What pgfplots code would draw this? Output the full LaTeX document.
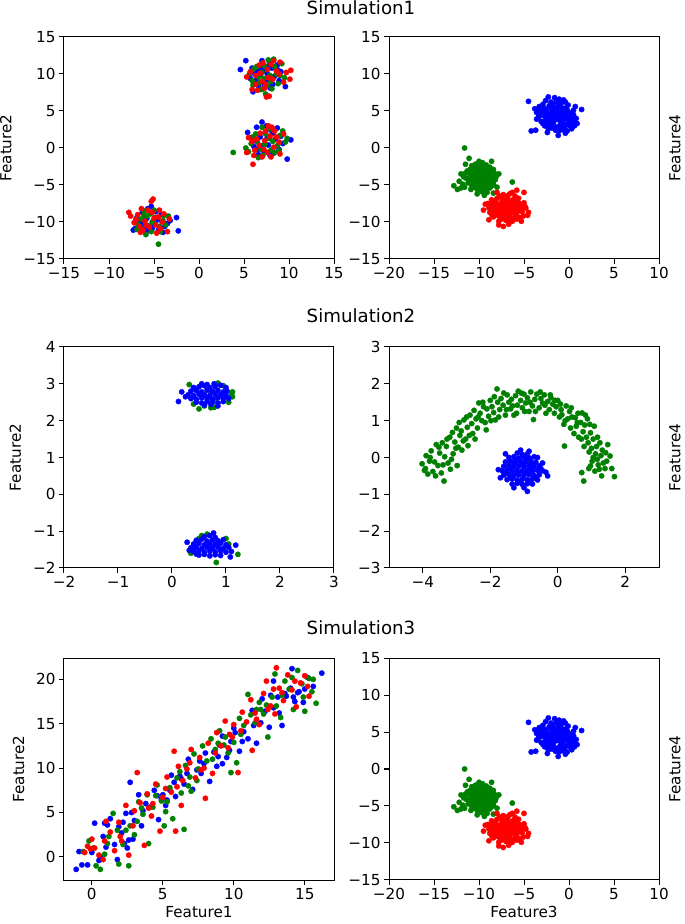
\documentclass[border=0pt]{standalone}
\usepackage{pgfplots}
\pgfplotsset{compat=1.18}
\usepackage{pgfplotstable}
\usepackage{fontspec}
\setmainfont{DejaVu Sans}
\definecolor{mb}{rgb}{0,0,1}
\definecolor{mg}{rgb}{0,0.5,0}
\definecolor{mr}{rgb}{1,0,0}
\pgfplotsset{
  panel/.style={
    width=270pt, height=222pt, scale only axis, anchor=south west,
    axis line style={line width=1pt, black},
    tick style={line width=1pt, black},
    tick align=outside, tick pos=left, major tick length=5pt,
    ticklabel style={font=\fontsize{15.2}{18}\selectfont},
    label style={font=\fontsize{15.2}{18}\selectfont},
    ylabel shift=5pt, xlabel shift=1.5pt,
    xlabel style={inner sep=1pt},
  },
  rlabel/.style={ylabel shift=0pt, ylabel style={at={(rel axis cs:1.025,0.5)}, anchor=north}},
  pb/.style={only marks, mark=*, mark size=2.7pt, color=mb, mark options={line width=0.3pt}},
  pg/.style={only marks, mark=*, mark size=2.7pt, color=mg, mark options={line width=0.3pt}},
  pr/.style={only marks, mark=*, mark size=2.7pt, color=mr, mark options={line width=0.3pt}},
}
% ---------- shared data: Feature3 vs Feature4 (Simulation1 and Simulation3) ----------
\pgfplotstableread{
x y
-2.6 6.4
-2.0 6.2
-1.4 6.3
-0.9 6.0
-2.3 6.9
-1.1 6.6
-3.3 5.6
-2.8 5.4
-2.2 5.7
-1.7 5.5
-1.1 5.6
-0.5 5.3
-0.1 5.8
-3.6 4.8
-3.0 5.0
-2.5 4.9
-1.9 5.1
-1.4 4.8
-0.8 5.0
-0.3 4.9
0.3 4.7
-3.4 4.2
-2.9 4.4
-2.3 4.2
-1.8 4.5
-1.2 4.3
-0.6 4.4
0.0 4.2
0.5 4.5
-3.1 3.6
-2.6 3.8
-2.0 3.5
-1.5 3.8
-0.9 3.6
-0.4 3.9
0.2 3.5
-2.7 3.0
-2.1 3.2
-1.6 2.9
-1.0 3.1
-0.5 2.8
0.1 3.0
-2.3 2.6
-1.5 2.4
-0.8 2.5
-0.2 2.3
-2.45 4.65
-1.55 4.05
-0.95 4.7
-2.05 3.95
-1.35 5.25
-0.65 4.0
-2.75 4.35
-1.75 3.35
-0.35 5.4
-3.0 4.7
-4.5 6.3
1.4 5.2
-4.2 2.3
-3.7 2.4
-1.2 1.7
-2.4 2.1
0.8 4.0
0.9 3.3
0.7 5.6
-3.8 5.3
-0.4 2.0
0.3 2.6
-1.6 6.8
-0.6 6.5
-2.9 5.9
-1.8 6.0
-1.2 5.95
-0.4 6.2
-3.5 5.2
-2.55 5.25
-1.95 5.45
-0.8 5.45
-0.15 5.05
0.5 5.1
-3.3 4.5
-2.1 4.6
-1.5 4.45
-0.9 4.15
-0.3 4.55
0.3 4.1
-3.6 3.9
-2.4 3.65
-1.2 3.85
-0.7 3.3
0.0 3.8
0.5 3.7
-2.9 3.3
-2.4 3.1
-1.3 2.75
-0.2 3.2
-1.9 2.7
-1.1 2.3
-0.5 2.5
0.6 3.0
}\Bblue
\pgfplotstableread{
x y
-10.4 -2.2
-9.8 -2.4
-9.2 -2.3
-8.8 -2.6
-11.0 -2.9
-10.5 -2.8
-9.9 -3.0
-9.4 -2.8
-8.9 -3.1
-8.4 -2.9
-11.5 -3.4
-11.0 -3.6
-10.4 -3.4
-9.9 -3.6
-9.3 -3.5
-8.8 -3.7
-8.3 -3.4
-11.4 -4.1
-10.8 -4.0
-10.3 -4.2
-9.7 -4.1
-9.2 -4.2
-8.6 -4.0
-8.2 -4.3
-11.2 -4.7
-10.6 -4.8
-10.0 -4.6
-9.5 -4.8
-8.9 -4.7
-8.4 -4.9
-10.5 -5.3
-9.9 -5.4
-9.4 -5.2
-8.8 -5.4
-9.7 -5.9
-9.1 -6.0
-10.15 -3.15
-9.55 -3.25
-10.65 -4.45
-9.45 -4.45
-10.05 -3.85
-8.95 -4.45
-10.75 -3.25
-9.15 -5.0
-10.2 -5.0
-9.6 -3.85
-11.6 0.0
-11.1 -1.4
-12.8 -5.1
-12.4 -5.6
-12.0 -5.4
-11.8 -4.9
-6.3 -4.6
-9.4 -6.4
-10.2 -6.2
-8.4 -6.1
-12.0 -3.5
-11.5 -2.2
-8.0 -5.3
-10.9 -5.6
-8.6 -1.8
-10.0 -1.8
-7.8 -3.5
-10.8 -2.4
-9.6 -2.0
-9.0 -2.9
-11.3 -3.1
-10.1 -2.6
-8.6 -3.3
-11.7 -3.9
-10.5 -3.8
-9.4 -3.9
-8.9 -4.0
-8.5 -4.6
-11.0 -4.3
-9.8 -4.4
-10.3 -4.8
-9.2 -4.6
-10.8 -5.1
-9.6 -5.1
-8.6 -5.1
-10.2 -5.6
-9.3 -5.6
-8.1 -3.9
-12.2 -4.5
-11.6 -5.3
}\Bgreen
\pgfplotstableread{
x y
-7.3 -6.3
-6.6 -6.2
-6.0 -6.5
-8.6 -7.0
-8.0 -6.8
-7.4 -6.9
-6.8 -6.8
-6.2 -7.0
-5.6 -6.8
-9.0 -7.5
-8.5 -7.4
-7.9 -7.6
-7.3 -7.5
-6.7 -7.4
-6.1 -7.6
-5.5 -7.5
-5.0 -7.4
-8.9 -8.1
-8.3 -8.0
-7.7 -8.2
-7.1 -8.1
-6.5 -8.2
-5.9 -8.0
-5.3 -8.2
-4.8 -8.1
-8.8 -8.7
-8.2 -8.8
-7.6 -8.6
-7.0 -8.8
-6.4 -8.7
-5.8 -8.8
-5.2 -8.6
-8.4 -9.3
-7.8 -9.2
-7.2 -9.4
-6.6 -9.3
-6.0 -9.2
-5.5 -9.4
-7.8 -9.9
-7.0 -9.8
-6.3 -9.9
-7.45 -7.2
-6.35 -7.8
-8.05 -8.4
-6.85 -8.5
-7.3 -9.0
-5.65 -8.4
-8.35 -7.7
-6.2 -9.6
-7.0 -7.8
-4.5 -8.7
-4.6 -9.1
-7.3 -10.6
-7.8 -10.4
-5.8 -5.7
-5.0 -6.0
-9.3 -7.6
-9.5 -8.4
-8.9 -9.7
-6.7 -10.3
-5.3 -9.9
-8.0 -6.0
-4.9 -7.9
-7.7 -6.5
-6.9 -6.5
-6.3 -6.0
-8.2 -7.2
-7.1 -7.1
-6.4 -7.3
-5.8 -7.2
-8.7 -7.8
-7.6 -7.9
-6.7 -7.7
-5.6 -7.8
-5.1 -7.8
-8.5 -8.4
-7.4 -8.4
-6.2 -8.4
-5.4 -8.4
-8.0 -9.0
-6.9 -9.2
-5.9 -9.0
-5.1 -9.2
-7.5 -9.6
-6.6 -9.7
-5.8 -9.6
-8.6 -9.0
}\Bred
\begin{document}
\begin{tikzpicture}
\path[use as bounding box] (0,0) rectangle (685pt,924pt);
\node[anchor=base, font=\fontsize{18.2}{22}\selectfont] at (361pt,909pt) {Simulation1};
\node[anchor=base, font=\fontsize{18.2}{22}\selectfont] at (361pt,601pt) {Simulation2};
\node[anchor=base, font=\fontsize{18.2}{22}\selectfont] at (361pt,289pt) {Simulation3};
% ================= Simulation1 left =================
\begin{axis}[panel, at={(64pt,665pt)},
  xmin=-15, xmax=15, ymin=-15, ymax=15,
  xtick={-15,-10,-5,0,5,10,15}, xticklabels={−15,−10,−5,0,5,10,15},
  ytick={-15,-10,-5,0,5,10,15}, yticklabels={−15,−10,−5,0,5,10,15},
  ylabel={Feature2}]
\addplot[pb] table {
6.5 10.5
7.0 11.8
7.8 11.7
5.2 11.8
4.6 10.6
6.0 7.6
8.9 9.1
9.6 8.3
7.2 8.7
8.1 10.8
6.8 9.9
7.5 9.2
8.4 9.7
6.2 10.0
7.9 8.1
9.1 10.3
5.7 9.4
7.3 10.4
8.7 11.2
6.6 8.4
6.9 10.9
7.6 10.0
8.2 8.6
6.4 9.2
7.1 8.0
8.8 10.5
5.9 10.8
7.7 11.0
7.0 3.5
7.5 3.0
6.4 2.8
8.0 2.4
5.4 2.1
10.2 1.1
9.8 -1.5
6.8 1.5
7.7 0.4
8.5 1.2
6.1 0.2
7.2 -0.4
8.9 -0.2
5.9 1.4
7.9 -1.0
6.6 -0.9
9.3 0.6
8.2 2.0
7.4 2.2
6.2 1.0
8.7 2.7
7.0 0.3
8.3 -0.7
6.5 -0.2
9.1 1.6
7.6 1.4
-7.3 -11.1
-7.1 -10.9
-2.3 -11.2
-2.5 -9.4
-3.2 -9.8
-4.5 -11.1
-5.3 -7.9
-6.3 -8.7
-5.0 -10.3
-5.8 -9.5
-4.2 -9.0
-6.6 -10.0
-3.8 -10.6
-5.5 -11.0
-4.8 -8.6
-6.0 -10.7
-5.7 -8.2
-4.6 -9.7
-6.9 -9.4
-5.2 -10.9
-3.5 -10.2
-6.2 -10.2
-4.0 -11.4
-5.9 -11.4
};
\addplot[pg] table {
7.7 11.9
8.3 12.0
6.4 11.0
7.0 10.2
8.6 10.0
9.5 9.5
6.9 7.9
7.4 7.3
5.9 9.1
8.0 9.0
6.6 9.6
9.2 11.4
7.6 8.5
8.8 8.7
6.1 10.7
7.2 9.4
7.3 11.1
8.4 11.0
6.0 8.5
7.9 9.8
6.7 8.8
9.0 9.8
5.6 10.0
8.1 8.0
3.8 -0.6
5.2 0.0
5.5 -0.5
9.3 2.3
9.0 1.7
9.6 0.8
8.4 -0.6
7.4 1.9
6.5 0.8
7.8 1.3
6.9 -0.2
8.7 0.3
7.1 -1.0
5.8 0.6
8.0 -0.3
6.3 1.9
7.9 2.6
6.0 1.5
8.9 -0.4
7.3 0.5
6.6 -1.3
8.2 0.9
9.8 1.3
7.0 2.8
-4.5 -13.0
-5.9 -11.7
-7.0 -9.6
-3.4 -9.2
-3.7 -10.4
-4.3 -11.3
-5.2 -10.0
-6.1 -9.1
-4.9 -9.4
-5.6 -10.5
-6.5 -10.8
-4.0 -9.8
-5.4 -8.9
-6.8 -10.3
-6.4 -9.6
-5.0 -8.4
-4.4 -10.6
-5.8 -9.2
-6.9 -11.0
-3.9 -9.1
-5.3 -11.3
-6.1 -8.5
};
\addplot[pr] table {
8.3 11.8
9.0 11.6
5.7 10.3
5.3 9.6
10.2 10.5
10.1 9.3
7.5 6.9
7.8 7.0
6.7 11.2
7.6 10.6
8.2 9.3
6.3 8.6
9.4 8.9
7.0 9.0
8.6 10.4
5.9 7.9
7.3 8.1
6.8 10.1
7.1 11.5
6.3 9.8
8.9 10.0
7.7 9.5
6.5 7.8
9.7 10.2
8.0 11.3
7.4 8.6
6.0 -2.2
5.3 -0.6
5.5 1.4
8.1 2.8
7.3 1.0
6.7 0.3
7.0 -1.2
8.6 1.5
6.2 -0.3
7.6 -0.6
9.0 -0.8
5.9 0.9
8.3 0.1
7.4 2.3
6.8 2.0
7.9 1.6
7.7 3.0
6.4 1.2
8.0 -1.2
8.9 0.8
7.2 -0.2
6.1 -1.0
9.4 1.9
8.4 2.3
-7.8 -8.7
-7.6 -9.2
-5.1 -6.9
-5.3 -7.2
-3.5 -11.3
-4.7 -11.5
-6.2 -11.1
-6.8 -9.0
-4.4 -8.4
-5.7 -8.4
-5.0 -9.5
-6.0 -9.9
-4.1 -10.0
-5.5 -10.7
-6.6 -10.6
-3.9 -8.9
-4.8 -10.4
-7.2 -10.1
-6.4 -8.2
-4.5 -9.3
-5.9 -10.4
-3.3 -9.6
-6.5 -11.4
-5.2 -8.7
-7.0 -9.7
-4.3 -10.9
};
\end{axis}
% ================= Simulation1 right =================
\begin{axis}[panel, rlabel, at={(389pt,665pt)},
  xmin=-20, xmax=10, ymin=-15, ymax=15,
  xtick={-20,-15,-10,-5,0,5,10}, xticklabels={−20,−15,−10,−5,0,5,10},
  ytick={-15,-10,-5,0,5,10,15}, yticklabels={−15,−10,−5,0,5,10,15},
  ylabel={Feature4}]
\addplot[pb] table {\Bblue};
\addplot[pg] table {\Bgreen};
\addplot[pr] table {\Bred};
\end{axis}
% ================= Simulation2 left =================
\begin{axis}[panel, at={(64pt,356pt)}, height=221pt,
  xmin=-2, xmax=3, ymin=-2, ymax=4,
  xtick={-2,-1,0,1,2,3}, xticklabels={−2,−1,0,1,2,3},
  ytick={-2,-1,0,1,2,3,4}, yticklabels={−2,−1,0,1,2,3,4},
  ylabel={Feature2}]
\addplot[pg] table {
0.32 2.98
0.5 2.32
0.72 2.35
0.78 2.36
1.12 2.78
1.1 2.7
0.85 3.02
1.05 2.5
0.95 2.95
0.4 2.45
1.12 2.65
0.6 2.4
0.6 2.7
0.8 2.6
0.7 2.8
0.65 -1.08
0.55 -1.12
0.82 -1.85
1.22 -1.63
0.35 -1.6
1.0 -1.2
0.4 -1.45
1.05 -1.35
0.5 -1.2
0.7 -1.4
0.9 -1.5
};
\addplot[pb] table {
0.5 2.92
0.6 2.95
0.7 2.9
0.8 2.93
0.9 2.96
0.65 2.98
0.35 2.8
0.45 2.82
0.55 2.78
0.65 2.83
0.75 2.8
0.85 2.82
0.95 2.78
1.02 2.8
0.3 2.7
0.4 2.68
0.5 2.72
0.6 2.7
0.7 2.68
0.8 2.72
0.9 2.7
1.0 2.68
0.35 2.6
0.45 2.58
0.55 2.62
0.65 2.6
0.75 2.58
0.85 2.62
0.95 2.6
0.45 2.5
0.55 2.48
0.65 2.52
0.75 2.5
0.85 2.48
0.95 2.52
0.6 2.42
0.72 2.44
0.85 2.4
0.12 2.52
0.18 2.78
0.25 2.65
1.05 2.6
0.55 3.0
0.78 3.0
0.4 2.9
1.0 2.9
0.6 -1.15
0.7 -1.12
0.8 -1.17
0.45 -1.25
0.55 -1.22
0.65 -1.27
0.75 -1.24
0.85 -1.26
0.95 -1.23
0.4 -1.35
0.5 -1.33
0.6 -1.37
0.7 -1.34
0.8 -1.36
0.9 -1.33
1.0 -1.37
0.35 -1.45
0.45 -1.43
0.55 -1.47
0.65 -1.44
0.75 -1.46
0.85 -1.43
0.95 -1.47
1.05 -1.44
0.4 -1.55
0.5 -1.53
0.6 -1.57
0.7 -1.54
0.8 -1.56
0.9 -1.53
1.0 -1.57
0.5 -1.65
0.6 -1.63
0.7 -1.67
0.8 -1.64
0.9 -1.66
0.28 -1.3
1.18 -1.38
1.08 -1.7
0.77 -1.05
0.32 -1.52
1.1 -1.55
0.45 -1.62
};
\end{axis}
% ================= Simulation2 right =================
\begin{axis}[panel, rlabel, at={(389pt,356pt)}, height=221pt,
  xmin=-5, xmax=3, ymin=-3, ymax=3,
  xtick={-4,-2,0,2}, xticklabels={−4,−2,0,2},
  ytick={-3,-2,-1,0,1,2,3}, yticklabels={−3,−2,−1,0,1,2,3},
  ylabel={Feature4}]
\addplot[pg] table {
-4.02 -0.17
-3.95 -0.35
-3.9 0.05
-3.85 -0.45
-3.8 -0.1
-3.75 0.18
-3.7 -0.38
-3.65 -0.12
-3.6 0.35
-3.55 -0.22
-3.5 0.12
-3.45 -0.42
-3.42 0.4
-3.37 -0.64
-3.35 0.02
-3.3 0.3
-3.25 -0.15
-3.2 0.55
-3.18 -0.32
-3.12 0.68
-3.1 0.1
-3.05 0.42
-3.0 0.8
-2.98 -0.22
-2.95 0.28
-2.9 0.6
-2.86 0.72
-2.8 0.45
-2.78 1.02
-2.73 0.5
-2.68 0.82
-2.66 0.32
-2.6 1.15
-2.55 0.92
-2.52 0.65
-2.48 1.28
-2.42 1.05
-2.38 0.8
-2.34 1.48
-2.3 1.2
-2.25 1.0
-2.2 1.38
-2.15 0.95
-2.1 1.32
-2.05 1.12
-2.0 1.55
-1.95 1.38
-1.9 1.22
-1.85 1.02
-1.8 1.86
-1.78 1.5
-1.72 1.3
-1.68 1.6
-1.62 1.42
-1.55 1.15
-1.5 1.7
-1.45 1.5
-1.4 1.32
-1.37 1.58
-1.3 1.15
-1.25 1.68
-1.2 1.42
-1.17 1.8
-1.1 1.55
-1.05 1.35
-1.0 1.72
-0.95 1.48
-0.9 1.62
-0.85 1.25
-0.8 1.78
-0.75 1.4
-0.72 1.03
-0.68 1.58
-0.62 1.72
-0.55 1.35
-0.5 1.6
-0.45 1.48
-0.4 1.7
-0.35 1.2
-0.3 1.52
-0.25 1.3
-0.2 1.62
-0.15 1.45
-0.1 1.2
-0.05 1.38
0.0 1.55
0.05 1.1
0.1 1.3
0.12 1.16
0.18 0.9
0.2 0.31
0.25 1.4
0.3 1.05
0.35 1.25
0.38 0.8
0.42 1.1
0.48 0.65
0.52 1.08
0.55 0.85
0.6 1.2
0.62 0.55
0.68 0.95
0.72 1.21
0.75 0.7
0.78 0.3
0.8 0.88
0.85 0.55
0.88 1.05
0.9 0.4
0.93 0.15
0.97 0.67
1.0 0.25
1.02 -0.1
1.05 0.5
1.08 0.85
1.1 -0.37
1.12 0.1
1.15 0.3
1.17 -0.05
1.2 -0.2
1.23 -0.32
1.25 0.4
1.28 0.05
1.3 -0.5
1.35 -0.15
1.42 0.13
1.48 0.35
1.55 0.04
1.68 -0.52
0.97 -0.23
0.77 -0.64
0.71 -0.41
1.4 -0.3
-3.92 -0.3
-3.78 0.0
-3.62 -0.5
-3.52 0.28
-3.4 -0.2
-3.28 0.5
-3.15 -0.05
-3.02 0.25
-2.92 0.95
-2.84 0.2
-2.7 1.1
-2.62 0.6
-2.45 0.5
-2.36 1.1
-2.22 1.5
-2.12 0.75
-1.98 1.0
-1.88 1.65
-1.75 1.1
-1.6 1.75
-1.52 1.3
-1.34 1.4
-1.22 1.2
-1.08 1.75
-0.98 1.25
-0.82 1.5
-0.66 1.25
-0.52 1.78
-0.38 1.42
-0.22 1.7
-0.08 1.55
0.08 1.45
0.22 1.0
0.4 1.35
0.58 0.95
0.7 0.5
0.82 1.15
0.95 0.9
1.05 0.0
1.18 0.55
1.32 0.2
1.45 -0.1
0.92 -0.3
1.6 -0.3
};
\addplot[pb] table {
-1.2 0.12
-1.05 0.08
-0.9 0.1
-1.45 0.0
-1.3 0.02
-1.15 -0.02
-1.0 0.01
-0.85 -0.01
-0.7 0.02
-1.55 -0.12
-1.4 -0.1
-1.25 -0.13
-1.1 -0.11
-0.95 -0.12
-0.8 -0.1
-0.65 -0.13
-1.6 -0.24
-1.45 -0.22
-1.3 -0.25
-1.15 -0.23
-1.0 -0.24
-0.85 -0.22
-0.7 -0.25
-0.55 -0.23
-1.65 -0.36
-1.5 -0.34
-1.35 -0.37
-1.2 -0.35
-1.05 -0.36
-0.9 -0.34
-0.75 -0.37
-0.6 -0.35
-0.45 -0.36
-1.6 -0.48
-1.45 -0.46
-1.3 -0.49
-1.15 -0.47
-1.0 -0.48
-0.85 -0.46
-0.7 -0.49
-0.55 -0.47
-1.5 -0.6
-1.35 -0.58
-1.2 -0.61
-1.05 -0.59
-0.9 -0.6
-0.75 -0.58
-0.6 -0.61
-1.35 -0.72
-1.2 -0.7
-1.05 -0.73
-0.9 -0.71
-0.75 -0.72
-1.1 0.2
-0.85 0.17
-1.76 -0.33
-0.3 -0.5
-0.35 -0.4
-0.9 -0.92
-1.0 -0.82
-1.3 -0.82
-0.45 -0.15
-1.7 -0.55
-0.6 0.0
-1.55 0.1
-1.25 -0.05
-0.95 -0.05
-1.4 -0.3
-0.8 -0.3
-1.2 -0.42
-0.95 -0.42
-1.4 -0.55
-0.65 -0.55
-1.1 -0.66
-0.85 -0.66
-1.55 -0.42
-0.5 -0.3
-1.05 -0.18
-1.3 -0.18
-0.75 -0.18
};
\end{axis}
% ================= Simulation3 left =================
\begin{axis}[panel, at={(64pt,44pt)},
  xmin=-1.96, xmax=17.06, ymin=-2.6, ymax=22.4,
  xtick={0,5,10,15}, xticklabels={0,5,10,15},
  ytick={0,5,10,15,20}, yticklabels={0,5,10,15,20},
  xlabel={Feature1}, ylabel={Feature2}]
\addplot[pb] table {
-1.1 -1.4
-0.9 0.6
-0.3 -0.9
0.2 3.8
0.9 3.8
0.5 -0.4
0.8 2.3
1.0 1.1
1.3 4.3
1.6 1.4
1.9 3.4
2.1 2.7
2.4 4.9
2.6 1.9
2.8 5.0
3.0 4.1
3.3 7.0
3.5 3.5
3.8 6.0
4.1 5.6
4.4 7.5
4.7 4.2
5.0 7.0
5.3 6.4
5.6 9.2
5.9 6.8
6.2 9.1
6.5 8.2
6.8 11.0
7.1 7.6
7.4 9.8
7.7 9.4
8.0 11.7
8.3 8.5
8.6 11.8
8.9 11.3
9.2 13.6
9.5 11.2
9.8 13.0
10.1 14.0
10.4 11.9
10.7 14.1
11.0 13.3
11.3 16.5
11.6 12.8
11.9 15.1
12.2 16.4
12.5 14.6
12.8 16.8
13.1 18.0
13.4 14.8
13.7 18.1
14.1 21.2
14.3 17.5
14.6 18.6
14.9 17.4
15.2 20.2
15.6 19.2
16.2 20.7
2.7 8.4
12.8 19.8
14.5 18.5
13.6 18.4
14.2 18.0
2.3 1.5
2.5 1.0
2.9 2.0
1.8 -0.3
-0.7 -0.9
0.6 0.0
10.0 14.5
9.2 10.5
6.3 8.8
5.5 7.5
4.9 6.5
0.0 0.5
1.1 3.6
2.2 3.9
3.6 5.2
4.6 6.9
5.8 8.4
6.7 9.4
7.6 10.8
8.8 10.2
9.7 12.0
10.6 13.0
11.4 14.8
12.0 17.8
13.2 16.2
14.0 19.0
15.0 18.9
12.6 18.2
9.0 12.6
7.9 10.5
5.2 5.8
};
\addplot[pg] table {
-0.6 0.6
-0.2 1.8
0.3 -1.0
0.6 -1.4
0.9 0.3
1.2 2.3
1.5 4.9
1.8 3.0
1.9 -0.8
2.2 1.4
2.6 -1.0
2.7 3.5
3.0 2.5
3.3 6.2
3.6 4.8
3.9 7.0
4.0 1.5
4.3 5.6
4.6 8.1
4.9 6.3
5.2 5.1
5.5 7.8
5.7 4.3
6.0 8.9
6.3 7.2
6.5 3.1
6.6 10.3
6.9 9.0
7.2 11.6
7.5 9.9
7.8 12.5
8.1 10.8
8.4 13.3
8.7 12.1
9.0 14.2
9.3 12.6
9.6 11.7
9.8 9.5
10.0 12.9
10.2 10.6
10.4 15.6
10.7 14.8
11.0 18.3
11.2 16.0
11.5 15.1
11.8 17.4
12.1 16.1
12.4 13.5
12.7 18.0
13.0 17.0
13.3 15.7
13.6 19.8
13.9 18.9
14.2 16.6
14.5 21.0
14.8 19.5
15.0 16.4
15.3 20.1
15.8 17.3
15.5 18.6
12.9 20.6
7.0 7.4
5.1 3.5
3.2 4.0
0.1 1.0
1.1 1.5
2.4 3.0
3.5 5.5
4.5 6.9
5.3 6.2
6.2 9.6
7.4 8.6
8.5 11.0
9.4 13.5
10.5 13.8
11.6 16.6
12.3 17.1
13.4 18.2
14.1 20.2
14.9 18.0
15.6 20.0
11.9 16.6
8.9 12.8
6.8 8.0
};
\addplot[pr] table {
-0.5 0.5
-0.3 1.2
0.0 2.0
0.2 1.0
0.5 0.2
0.8 -0.3
1.0 4.0
1.3 2.8
1.6 0.7
1.9 3.9
2.1 1.8
2.4 5.8
2.6 0.2
2.9 3.5
3.2 9.5
3.4 6.1
3.7 1.3
3.9 7.1
4.2 4.6
4.5 8.2
4.8 2.9
5.0 6.7
5.3 9.0
5.6 7.3
5.9 2.9
5.8 11.9
6.1 10.2
6.4 8.6
6.7 9.9
7.0 12.1
7.3 8.9
7.6 11.2
7.9 10.0
8.0 6.6
8.2 12.8
8.5 9.4
8.8 14.0
9.1 12.5
9.4 15.3
9.7 13.8
10.0 14.9
10.3 9.5
10.6 16.3
10.9 15.2
11.2 17.7
11.5 16.2
11.8 14.9
12.1 18.4
12.3 19.8
12.6 17.0
12.9 16.1
13.0 21.3
13.2 19.0
13.5 17.6
13.8 20.5
14.1 18.8
14.4 16.9
14.7 19.6
15.0 20.4
15.3 18.1
11.3 12.0
6.3 5.8
-0.1 0.9
0.9 1.8
2.0 2.3
3.0 5.2
4.0 5.5
5.2 7.7
6.0 7.9
6.9 10.6
7.7 9.8
8.7 11.7
9.6 12.3
10.5 14.2
11.6 15.5
12.4 16.6
13.4 18.5
14.3 19.8
15.2 19.2
12.8 18.9
9.9 13.5
4.3 6.0
};
\end{axis}
% ================= Simulation3 right =================
\begin{axis}[panel, rlabel, at={(389pt,44pt)},
  xmin=-20, xmax=10, ymin=-15, ymax=15,
  xtick={-20,-15,-10,-5,0,5,10}, xticklabels={−20,−15,−10,−5,0,5,10},
  ytick={-15,-10,-5,0,5,10,15}, yticklabels={−15,−10,−5,0,5,10,15},
  xlabel={Feature3}, ylabel={Feature4}]
\addplot[pb] table {\Bblue};
\addplot[pg] table {\Bgreen};
\addplot[pr] table {\Bred};
\end{axis}
\end{tikzpicture}
\end{document}
